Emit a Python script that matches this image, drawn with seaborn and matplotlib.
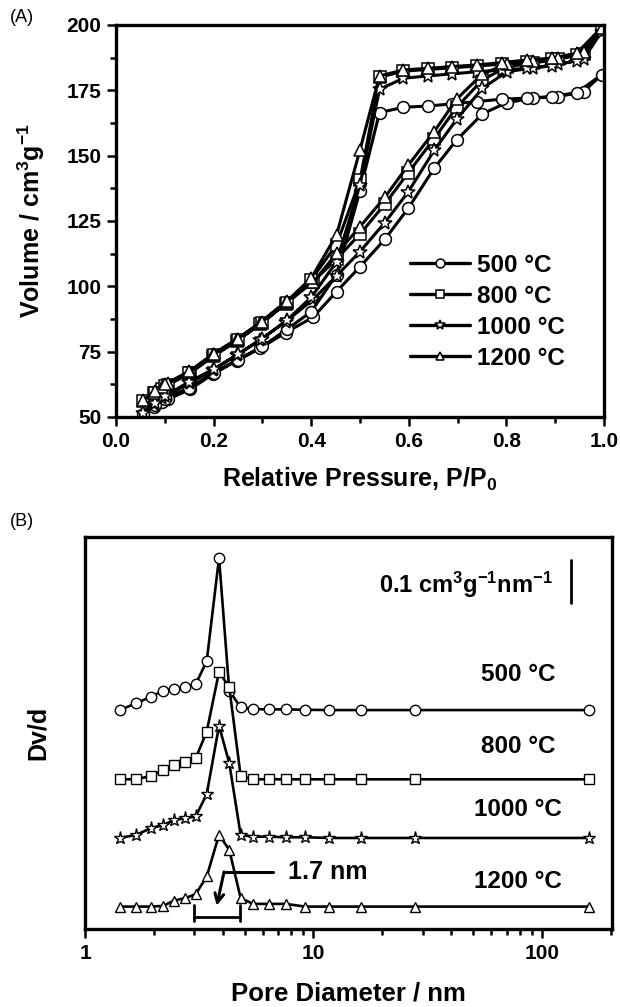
import numpy as np
import matplotlib
matplotlib.use('Agg')
import matplotlib.pyplot as plt
import matplotlib.ticker as mticker
import seaborn as sns

sns.set_theme(style='white')
plt.rcParams['font.family'] = ['Liberation Sans', 'DejaVu Sans']
plt.rcParams['font.weight'] = 'bold'
plt.rcParams['mathtext.fontset'] = 'custom'
plt.rcParams['mathtext.rm'] = 'Liberation Sans:bold'
plt.rcParams['mathtext.it'] = 'Liberation Sans:bold'
plt.rcParams['mathtext.bf'] = 'Liberation Sans:bold'
plt.rcParams['mathtext.default'] = 'bf'
for k in ['text.color', 'axes.labelcolor', 'xtick.color', 'ytick.color', 'axes.edgecolor']:
    plt.rcParams[k] = 'black'

# ---------------- Panel A data: N2 isotherms ----------------
labels = ['500 °C', '800 °C', '1000 °C', '1200 °C']
markers = ['o', 's', '*', '^']

ads_p = [0.055, 0.078, 0.094, 0.107, 0.152, 0.199, 0.247, 0.295, 0.348, 0.404, 0.452,
         0.500, 0.551, 0.599, 0.652, 0.698, 0.751, 0.801, 0.855, 0.906, 0.958, 0.995]
des_p = [0.944, 0.893, 0.842, 0.790, 0.739, 0.689, 0.639, 0.589, 0.540, 0.500, 0.452,
         0.400, 0.350, 0.300, 0.250, 0.200, 0.150, 0.100, 0.080]

ads_500 = [51.0, 53.9, 55.9, 56.8, 60.6, 66.5, 71.4, 76.3, 82.3, 88.2, 98.0,
           107.5, 118.0, 129.9, 145.2, 156.0, 166.0, 170.3, 172.0, 172.6, 174.5, 180.9]
des_500 = [174.1, 172.6, 172.0, 171.6, 170.7, 169.8, 169.0, 168.5, 166.5, 136.6, 104.5,
           90.3, 83.5, 77.0, 72.0, 67.0, 61.2, 57.0, 54.5]

ads_800 = [56.0, 59.0, 60.8, 62.3, 66.8, 73.2, 79.0, 85.5, 93.3, 101.8, 110.5,
           120.0, 131.5, 143.5, 156.5, 168.5, 179.0, 184.0, 185.5, 186.8, 189.0, 198.5]
des_800 = [188.5, 187.0, 186.0, 185.0, 184.3, 183.6, 183.0, 182.3, 180.0, 140.5, 116.0,
           102.5, 93.8, 86.0, 79.5, 73.6, 67.0, 61.8, 59.3]

ads_1000 = [51.5, 55.0, 57.2, 58.5, 63.1, 68.0, 73.7, 79.5, 86.5, 95.0, 104.0,
            113.3, 124.4, 136.2, 152.0, 163.9, 175.8, 182.1, 183.6, 185.0, 186.8, 197.5]
des_1000 = [186.4, 184.3, 183.4, 182.8, 182.1, 181.3, 180.5, 179.6, 175.4, 138.8, 109.4,
            95.8, 87.0, 80.0, 74.0, 68.3, 63.5, 58.0, 55.5]

ads_1200 = [56.5, 59.3, 61.4, 62.9, 67.3, 74.0, 79.7, 86.1, 94.1, 101.5, 112.6,
            122.8, 134.1, 146.4, 159.2, 171.6, 181.3, 185.0, 186.3, 187.5, 189.5, 199.0]
des_1200 = [189.2, 187.3, 186.6, 185.6, 184.7, 184.1, 183.4, 182.8, 180.5, 152.2, 119.7,
            103.1, 94.3, 86.5, 80.0, 74.2, 67.5, 62.5, 59.8]

ads_all = [ads_500, ads_800, ads_1000, ads_1200]
des_all = [des_500, des_800, des_1000, des_1200]

# ---------------- Panel B data: pore size distributions ----------------
pore_d = [1.42, 1.67, 1.94, 2.20, 2.45, 2.74, 3.05, 3.41, 3.86, 4.28, 4.80,
          5.45, 6.37, 7.55, 9.21, 11.7, 16.2, 27.8, 160.0]
dv_500 = [0.0, 0.0156, 0.0309, 0.0449, 0.0481, 0.0528, 0.0598, 0.114, 0.354, 0.045, 0.0063,
          0.0023, 0.0016, 0.0016, 0.0007, 0.0, 0.0, 0.0, 0.0]
dv_800 = [0.0, 0.0, 0.0077, 0.0216, 0.0333, 0.0409, 0.0488, 0.111, 0.250, 0.214, 0.0077,
          0.0, 0.0, 0.0, 0.0, 0.0, 0.0, 0.0, 0.0]
dv_1000 = [0.0, 0.007, 0.0226, 0.030, 0.042, 0.046, 0.050, 0.102, 0.261, 0.174, 0.007,
           0.003, 0.003, 0.0016, 0.0016, 0.0, 0.0, 0.0, 0.0]
dv_1200 = [0.0, 0.0, 0.0, 0.0016, 0.0140, 0.0195, 0.0288, 0.070, 0.167, 0.132, 0.0195,
           0.0063, 0.0063, 0.0063, 0.0, 0.0, 0.0, 0.0, 0.0]
dv_all = [dv_500, dv_800, dv_1000, dv_1200]
offsets = [0.509, 0.348, 0.2116, 0.052]

fig = plt.figure(figsize=(6.2, 10.07), dpi=100)
axA = fig.add_axes([0.1871, 0.5859, 0.7871, 0.3893])
axB = fig.add_axes([0.1371, 0.0775, 0.85, 0.3893])

# ---- Panel A ----
for lab, mk, a, d in zip(labels, markers, ads_all, des_all):
    ms = 10.5 if mk == '*' else 8.5
    sns.lineplot(x=ads_p + des_p, y=a + d, sort=False, estimator=None, ax=axA,
                 color='black', lw=2.2, marker=mk, markersize=ms,
                 markerfacecolor='white', markeredgecolor='black', markeredgewidth=1.1,
                 label=lab)
axA.set_xlim(0.0, 1.0)
axA.set_ylim(50, 200)
axA.set_xticks(np.arange(0, 1.01, 0.2))
axA.xaxis.set_major_formatter(mticker.FormatStrFormatter('%.1f'))
axA.xaxis.set_minor_locator(mticker.MultipleLocator(0.1))
axA.set_yticks(np.arange(50, 201, 25))
axA.yaxis.set_minor_locator(mticker.MultipleLocator(12.5))
axA.tick_params(which='both', direction='out', bottom=True, left=True, top=False, right=False,
                width=1.8, labelsize=15, pad=4)
axA.tick_params(which='major', length=6.5)
axA.tick_params(which='minor', length=4)
for lab in axA.get_xticklabels() + axA.get_yticklabels():
    lab.set_fontweight('bold')
for s in axA.spines.values():
    s.set_linewidth(2.4)
axA.set_xlabel('Relative Pressure, P/P$_{0}$', fontsize=18, fontweight='bold')
axA.set_ylabel('Volume / cm$^{3}$g$^{-1}$', fontsize=18, fontweight='bold')
axA.xaxis.set_label_coords(0.5, -0.125)
axA.yaxis.set_label_coords(-0.141, 0.5)
leg = axA.legend(loc='center left', bbox_to_anchor=(0.6025, 0.2685), frameon=False,
                 fontsize=17.5, handlelength=2.45, handletextpad=0.3, labelspacing=0.33,
                 borderpad=0, borderaxespad=0, markerscale=0.75)
for t in leg.get_texts():
    t.set_fontweight('bold')
for h in leg.get_lines():
    h.set_linewidth(2.4)
fig.text(10 / 620, 1 - 18 / 1007, '(A)', fontsize=13, fontweight='normal', va='center', ha='left')

# ---- Panel B ----
for mk, dv, off in zip(markers, dv_all, offsets):
    ms = 9.5 if mk == '*' else 7.5
    sns.lineplot(x=pore_d, y=np.array(dv) + off, sort=False, estimator=None, ax=axB,
                 color='black', lw=1.9, marker=mk, markersize=ms,
                 markerfacecolor='white', markeredgecolor='black', markeredgewidth=1.0)
axB.set_xscale('log')
axB.set_xlim(1, 202.5)
axB.set_ylim(0, 0.9116)
axB.set_xticks([1, 10, 100])
axB.set_xticklabels(['1', '10', '100'])
axB.xaxis.set_minor_locator(mticker.LogLocator(base=10, subs=np.arange(2, 10)))
axB.xaxis.set_minor_formatter(mticker.NullFormatter())
axB.tick_params(which='both', direction='out', bottom=True, left=False, top=False, right=False,
                width=1.8, labelsize=15, pad=4, labelleft=False)
axB.tick_params(which='major', length=6.5)
axB.tick_params(which='minor', length=4)
for lab in axB.get_xticklabels():
    lab.set_fontweight('bold')
for s in axB.spines.values():
    s.set_linewidth(2.4)
axB.set_xlabel('Pore Diameter / nm', fontsize=18.5, fontweight='bold')
axB.set_ylabel('Dv/d', fontsize=18, fontweight='bold')
axB.xaxis.set_label_coords(0.5, -0.135)
axB.yaxis.set_label_coords(-0.066, 0.5)

# labels for curves
curve_label_y = [0.648, 0.465, 0.304, 0.121]
for lab, yy in zip(labels, curve_label_y):
    axB.text(0.8216, yy, lab, transform=axB.transAxes, fontsize=17.5, fontweight='bold',
             ha='center', va='center')
# scale bar
axB.text(0.888, 0.878, '0.1 cm$^{3}$g$^{-1}$nm$^{-1}$', transform=axB.transAxes, fontsize=17,
         fontweight='bold', ha='right', va='center')
axB.plot([133.6, 133.6], [0.758, 0.858], color='black', lw=2.0)
# 1.7 nm annotation
axB.text(0.385, 0.146, '1.7 nm', transform=axB.transAxes, fontsize=18, fontweight='bold',
         ha='left', va='center')
axB.plot([6.63, 4.06], [0.1326, 0.1326], color='black', lw=2.2)
axB.annotate('', xy=(3.77, 0.054), xytext=(4.06, 0.1326),
             arrowprops=dict(arrowstyle='->', color='black', lw=2.2, shrinkA=0, shrinkB=0,
                             mutation_scale=16))
axB.plot([3.0, 4.75], [0.0286, 0.0286], color='black', lw=2.0)
axB.plot([3.0, 3.0], [0.0193, 0.0558], color='black', lw=2.0)
axB.plot([4.75, 4.75], [0.0193, 0.0558], color='black', lw=2.0)
fig.text(10 / 620, 1 - 522 / 1007, '(B)', fontsize=13, fontweight='normal', va='center', ha='left')

fig.savefig('out.png', dpi=100)
